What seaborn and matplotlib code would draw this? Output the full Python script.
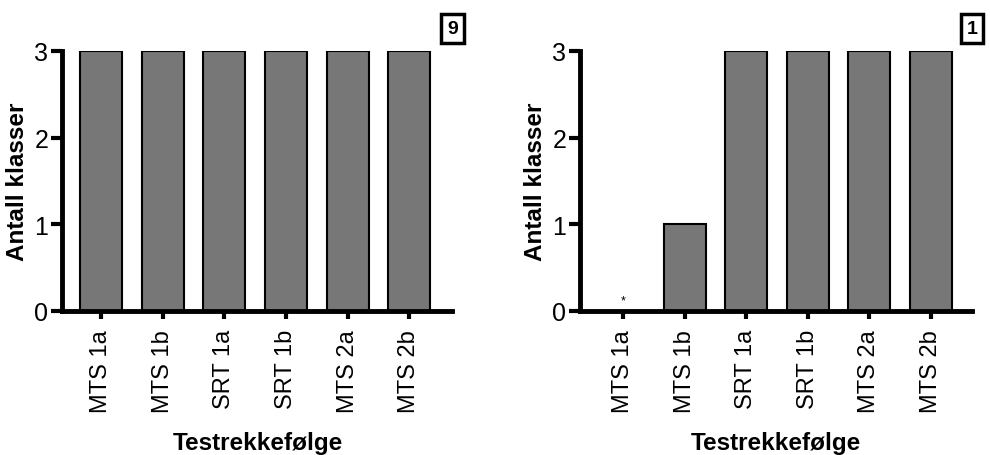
import pandas as pd
import seaborn as sns
import matplotlib.pyplot as plt

# data
kategorier = ["MTS 1a", "MTS 1b", "SRT 1a", "SRT 1b", "MTS 2a", "MTS 2b"]
klasser_9 = [3, 3, 3, 3, 3, 3]
klasser_1 = [0, 1, 3, 3, 3, 3]
paneler = ["9", "1"]

sns.set_style("ticks")
plt.rcParams['font.family'] = ['Liberation Sans', 'DejaVu Sans']
plt.rcParams['text.color'] = 'black'
plt.rcParams['axes.labelcolor'] = 'black'
plt.rcParams['xtick.color'] = 'black'
plt.rcParams['ytick.color'] = 'black'

fig = plt.figure(figsize=(9.9, 4.56), dpi=100)
ax1 = fig.add_axes([0.063, 0.316, 0.394, 0.570])
ax2 = fig.add_axes([0.586, 0.316, 0.396, 0.570])


def tegn(ax, verdier, xlim):
    df = pd.DataFrame({"test": kategorier, "antall": verdier})
    sns.barplot(data=df, x="test", y="antall", order=kategorier, color="#777777",
                saturation=1, width=0.68, edgecolor="black", linewidth=1.5, ax=ax)
    ax.set_xlim(*xlim)
    ax.set_ylim(0, 3)
    ax.set_yticks([0, 1, 2, 3])
    ax.tick_params(axis="y", labelsize=18, width=3, length=8, pad=2)
    ax.tick_params(axis="x", labelsize=17, width=3, length=6, rotation=90, pad=7)
    for s in ["top", "right"]:
        ax.spines[s].set_visible(False)
    for s in ["left", "bottom"]:
        ax.spines[s].set_linewidth(3.5)
        ax.spines[s].set_color("black")
    ax.set_ylabel("Antall klasser", fontsize=17.5, fontweight="bold", labelpad=4)
    ax.set_xlabel("Testrekkefølge", fontsize=17.5, fontweight="bold", labelpad=14)


tegn(ax1, klasser_9, (-0.63, 5.7))
tegn(ax2, klasser_1, (-0.70, 5.67))

# liten markering for null-verdi
ax2.text(0, 0.05, "*", ha="center", va="bottom", fontsize=9)

fig.text(0.457, 0.935, paneler[0], ha="center", va="center", fontsize=14, fontweight="bold",
         bbox=dict(boxstyle="square,pad=0.3", fc="white", ec="black", lw=2.5))
fig.text(0.982, 0.935, paneler[1], ha="center", va="center", fontsize=14, fontweight="bold",
         bbox=dict(boxstyle="square,pad=0.3", fc="white", ec="black", lw=2.5))

fig.savefig("out.png", dpi=100)
